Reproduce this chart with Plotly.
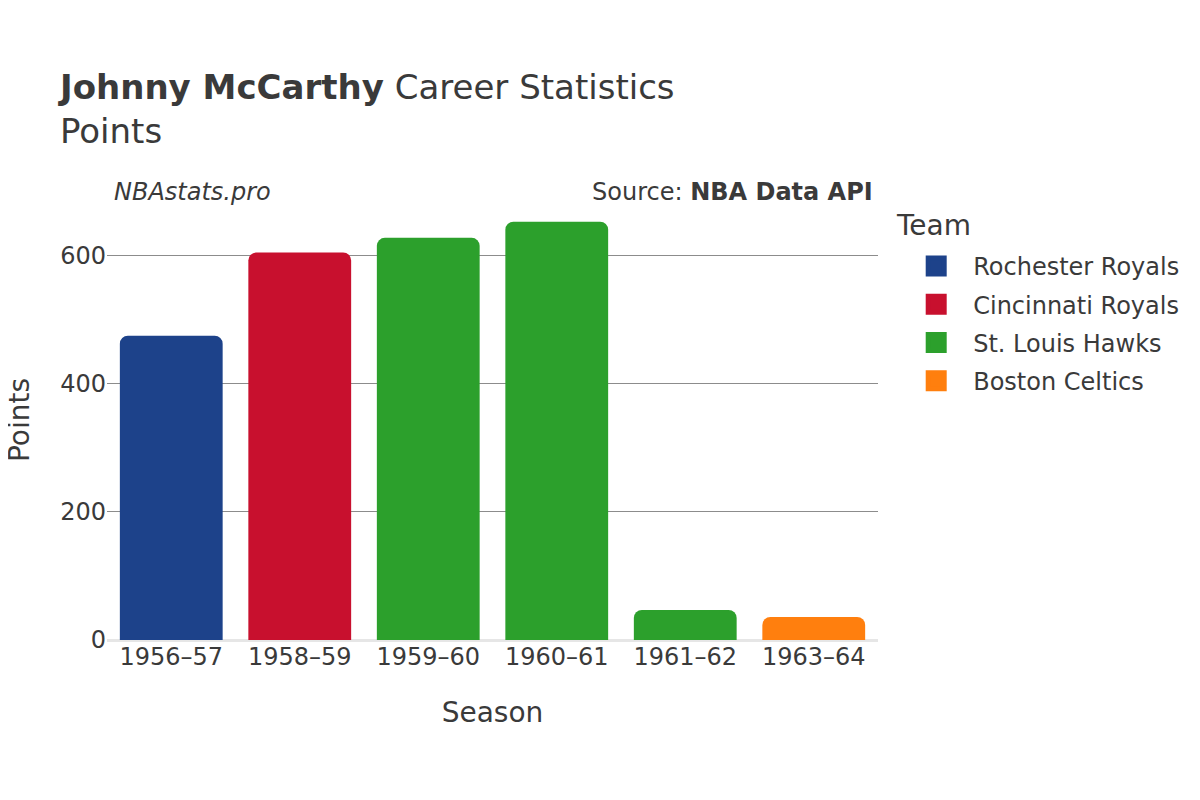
import plotly.graph_objects as go

seasons = ["1956–57", "1958–59", "1959–60", "1960–61", "1961–62", "1963–64"]
teams = ["Rochester Royals", "Cincinnati Royals", "St. Louis Hawks", "St. Louis Hawks",
         "St. Louis Hawks", "Boston Celtics"]
points = [475, 605, 628, 653, 47, 36]

team_order = ["Rochester Royals", "Cincinnati Royals", "St. Louis Hawks", "Boston Celtics"]
team_colors = {
    "Rochester Royals": "#1d428a",
    "Cincinnati Royals": "#c8102e",
    "St. Louis Hawks": "#2ca02c",
    "Boston Celtics": "#ff7f0e",
}

font = "DejaVu Sans"
text_color = "#3a3a3a"

fig = go.Figure()
for team in team_order:
    xs = [s for s, t in zip(seasons, teams) if t == team]
    ys = [p for p, t in zip(points, teams) if t == team]
    fig.add_trace(go.Bar(x=xs, y=ys, name=team, marker_color=team_colors[team],
                         marker_line_width=0, showlegend=False, legendgroup=team))
    # legend-only marker so the swatch can be bigger than the bar default
    fig.add_trace(go.Scatter(x=[None], y=[None], mode="markers", name=team,
                             legendgroup=team,
                             marker=dict(symbol="square", size=16, color=team_colors[team],
                                         line=dict(width=5, color=team_colors[team]))))

fig.update_layout(
    width=1200, height=800,
    plot_bgcolor="white", paper_bgcolor="white",
    barmode="relative", bargap=0.2, barcornerradius=8,
    font=dict(family=font, color=text_color, size=24),
    margin=dict(l=99, r=330, t=192, b=168),
    title=dict(
        text="<b>Johnny McCarthy</b> Career Statistics<br>Points",
        x=52 / 1200, xanchor="left", y=0.886, yanchor="top",
        font=dict(size=34, family=font, color=text_color),
    ),
    legend=dict(
        font=dict(size=24),
        x=1.0275, xanchor="left", y=0.9, yanchor="top",
        itemsizing="trace", itemwidth=64,
        traceorder="grouped", tracegroupgap=4,
    ),
    xaxis=dict(
        type="category", categoryorder="array", categoryarray=seasons,
        title=dict(text="Season", font=dict(size=28), standoff=32),
        tickfont=dict(size=24), showgrid=False, ticks="", automargin=False,
    ),
    yaxis=dict(
        range=[0, 687], tickvals=[0, 200, 400, 600],
        tickfont=dict(size=24), showgrid=True, gridcolor="#8c8c8c", gridwidth=1,
        zeroline=True, zerolinecolor="#e6e6e6", zerolinewidth=3, ticks="",
        automargin=False,
    ),
)

fig.add_annotation(text="Points", xref="paper", yref="paper", textangle=-90,
                   x=-0.1141, y=0.5, xanchor="center", yanchor="middle", showarrow=False,
                   font=dict(size=28, color=text_color))
fig.add_annotation(text="Team", xref="paper", yref="paper",
                   x=1.0207, y=0.941, xanchor="left", yanchor="middle", showarrow=False,
                   font=dict(size=28, color=text_color))
fig.add_annotation(text="<i>NBAstats.pro</i>", xref="paper", yref="paper",
                   x=0.007, y=1.0, xanchor="left", yanchor="bottom", showarrow=False,
                   yshift=-8, font=dict(size=24, color=text_color))
fig.add_annotation(text="Source: <b>NBA Data API</b>", xref="paper", yref="paper",
                   x=0.996, y=1.0, xanchor="right", yanchor="bottom", showarrow=False,
                   yshift=-8, font=dict(size=24, color=text_color))

fig.write_html("out.html")
